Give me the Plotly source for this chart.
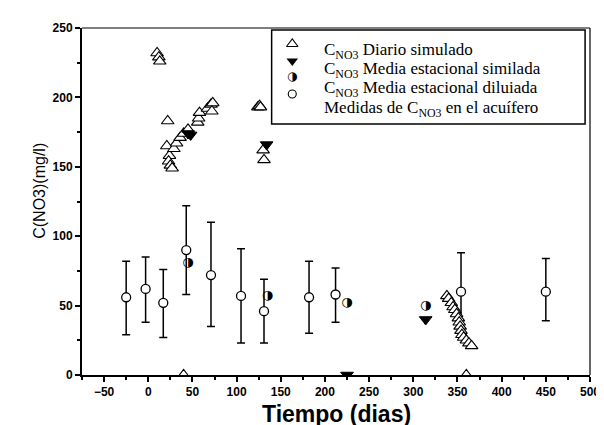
import plotly.graph_objects as go

# ---- data ----
med_x = [-25, -3, 17, 43, 71, 105, 131, 182, 212, 354, 450]
med_y = [56, 62, 52, 90, 72, 57, 46, 56, 58, 60, 60]
med_hi = [82, 85, 76, 122, 110, 91, 69, 82, 77, 88, 84]
med_lo = [29, 38, 27, 58, 35, 23, 23, 30, 38, 32, 39]

daily_x = [10, 12, 13, 22, 21, 24, 23, 25, 27, 29, 32, 36, 40, 45,
           56, 57, 58, 67, 71, 73, 72, 124, 126, 127, 130, 131,
           40, 360,
           338, 340, 343, 345, 347, 349, 351, 352, 353, 354, 355, 357, 360, 363, 366]
daily_y = [232, 229, 226, 183, 165, 158, 154, 151, 149, 163, 167, 171, 174, 177,
           182, 185, 189, 192, 195, 196, 190, 193, 194, 193, 162, 155,
           0, 0,
           57, 55, 52, 49, 47, 44, 41, 38, 35, 32, 29, 27, 25, 23, 21]

seas_x = [45, 48, 134, 225, 314]
seas_y = [174, 173, 166, 0, 40]

dil_x = [45, 135, 225, 314]
dil_y = [81, 57, 52, 50]

legend_labels = [
    "C<sub>NO3</sub> Diario simulado",
    "C<sub>NO3</sub> Media estacional similada",
    "C<sub>NO3</sub> Media estacional diluiada",
    "Medidas de C<sub>NO3</sub> en el acuífero",
]

x_title = "Tiempo (dias)"
y_title = "C(NO3)(mg/l)"

# ---- geometry helpers (pixel -> paper) ----
L, R, T, B = 74, 591, 20, 367
W, H = 604, 425
def px_x(px):
    return (px - L) / (R - L)
def px_y(py):
    return (B - py) / (B - T)

fig = go.Figure()

fig.add_trace(go.Scatter(
    x=med_x, y=med_y, mode="markers",
    marker=dict(symbol="circle", size=9, color="white",
                line=dict(color="black", width=1.3)),
    error_y=dict(type="data", symmetric=False,
                 array=[h - y for h, y in zip(med_hi, med_y)],
                 arrayminus=[y - l for l, y in zip(med_lo, med_y)],
                 color="black", thickness=1.5, width=4),
    showlegend=False))

fig.add_trace(go.Scatter(
    x=daily_x, y=daily_y, mode="markers",
    marker=dict(symbol="triangle-up", size=11, color="white",
                line=dict(color="black", width=1.1)),
    showlegend=False))

fig.add_trace(go.Scatter(
    x=seas_x, y=seas_y, mode="markers",
    marker=dict(symbol="triangle-down", size=11, color="black",
                line=dict(color="black", width=1)),
    showlegend=False))

fig.add_trace(go.Scatter(
    x=dil_x, y=dil_y, mode="text", text=["◑"] * len(dil_x),
    textposition="middle center",
    textfont=dict(family="DejaVu Sans", size=13, color="#000000"),
    showlegend=False))

# ---- legend symbols on an overlay axis (paper-like 0..1) ----
sym_x = px_x(288)
sym_y = [px_y(36), px_y(53), px_y(69), px_y(86)]
fig.add_trace(go.Scatter(x=[sym_x], y=[sym_y[0]], xaxis="x2", yaxis="y2", mode="markers",
                         marker=dict(symbol="triangle-up", size=10, color="white",
                                     line=dict(color="black", width=1.1)),
                         showlegend=False, cliponaxis=False))
fig.add_trace(go.Scatter(x=[sym_x], y=[sym_y[1]], xaxis="x2", yaxis="y2", mode="markers",
                         marker=dict(symbol="triangle-down", size=10, color="black"),
                         showlegend=False, cliponaxis=False))
fig.add_trace(go.Scatter(x=[sym_x], y=[sym_y[2]], xaxis="x2", yaxis="y2", mode="text",
                         text=["◑"], textfont=dict(family="DejaVu Sans", size=12, color="#000000"),
                         showlegend=False, cliponaxis=False))
fig.add_trace(go.Scatter(x=[sym_x], y=[sym_y[3]], xaxis="x2", yaxis="y2", mode="markers",
                         marker=dict(symbol="circle", size=8, color="white",
                                     line=dict(color="black", width=1.1)),
                         showlegend=False, cliponaxis=False))

shapes = [
    dict(type="rect", xref="paper", yref="paper",
         x0=px_x(267), x1=px_x(586), y0=px_y(116), y1=px_y(22),
         line=dict(color="black", width=1.5), fillcolor="rgba(0,0,0,0)"),
    dict(type="line", xref="paper", yref="paper", x0=0, x1=1, y0=1, y1=1,
         line=dict(color="black", width=1.2)),
    dict(type="line", xref="paper", yref="paper", x0=1, x1=1, y0=0, y1=1,
         line=dict(color="black", width=1.2)),
]

annotations = []
text_y = [43, 62, 81, 101]
for lab, ty in zip(legend_labels, text_y):
    annotations.append(dict(
        text=lab, xref="paper", yref="paper", x=px_x(318), y=px_y(ty),
        xanchor="left", yanchor="middle", showarrow=False,
        font=dict(family="Liberation Serif", size=17, color="black")))

annotations.append(dict(
    text=x_title, xref="paper", yref="paper", x=0.5, y=px_y(391),
    xanchor="center", yanchor="top", showarrow=False,
    font=dict(family="Liberation Sans", size=23, color="black", weight="bold")))
annotations.append(dict(
    text=y_title, xref="paper", yref="paper", x=px_x(30), y=px_y(183),
    xanchor="center", yanchor="middle", showarrow=False, textangle=-90,
    font=dict(family="Liberation Sans", size=16, color="black")))

tickfont = dict(family="Liberation Sans", size=12, color="black", weight="bold")

fig.update_layout(
    width=W, height=H,
    margin=dict(l=L, r=W - R, t=T, b=H - B),
    paper_bgcolor="white", plot_bgcolor="white",
    showlegend=False,
    shapes=shapes, annotations=annotations,
    xaxis=dict(range=[-75, 500], tick0=0, dtick=50, showgrid=False, zeroline=False,
               showline=True, linecolor="black", linewidth=2,
               ticks="outside", ticklen=5, tickwidth=1.5, tickcolor="black",
               minor=dict(ticks="outside", ticklen=3, dtick=25, tickwidth=1.5,
                          tickcolor="black", showgrid=False),
               tickfont=tickfont),
    yaxis=dict(range=[0, 250], tick0=0, dtick=50, showgrid=False, zeroline=False,
               showline=True, linecolor="black", linewidth=2,
               ticks="outside", ticklen=5, tickwidth=1.5, tickcolor="black",
               minor=dict(ticks="outside", ticklen=3, dtick=25, tickwidth=1.5,
                          tickcolor="black", showgrid=False),
               tickfont=tickfont),
    xaxis2=dict(range=[0, 1], overlaying="x", visible=False, fixedrange=True),
    yaxis2=dict(range=[0, 1], overlaying="y", visible=False, fixedrange=True),
)

fig.write_html("out.html")
